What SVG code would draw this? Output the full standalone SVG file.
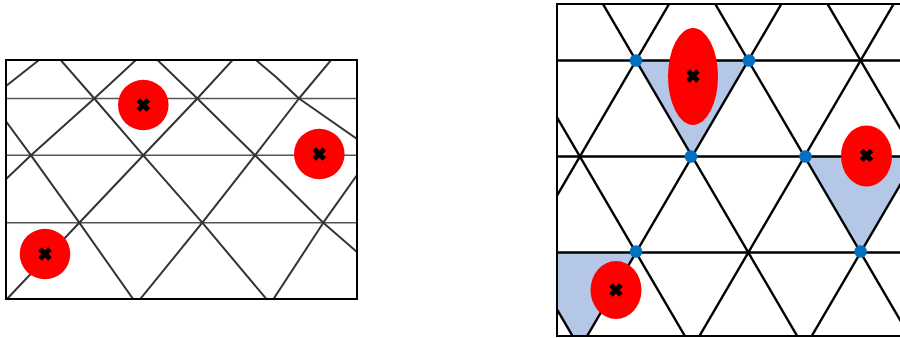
<svg xmlns="http://www.w3.org/2000/svg" width="900" height="338" viewBox="0 0 900 338">
  <defs>
    <style>
      .hl { stroke: #555555; stroke-width: 1.6; fill: none; }
      .dl { stroke: #333333; stroke-width: 2; fill: none; stroke-linejoin: round; }
      .frame { stroke: #000000; stroke-width: 2; fill: none; }
      .rl { stroke: #000000; stroke-width: 2.4; fill: none; }
      .blob { fill: #FF0000; }
      .shade { fill: #B4C7E7; }
      .dot { fill: #0070C0; }
      .x { stroke: #000000; stroke-width: 5; stroke-linecap: butt; fill: none; }
    </style>
    <clipPath id="leftClip"><rect x="6" y="60" width="351" height="239"/></clipPath>
    <clipPath id="rightClip"><rect x="557" y="4" width="350" height="332"/></clipPath>
    <path id="xmark" d="M-5,-5 L5,5 M5,-5 L-5,5"/>
  </defs>
  <rect width="900" height="338" fill="#FFFFFF"/>

  <!-- Left panel: distorted grid -->
  <g id="left-panel">
    <g id="left-grid" clip-path="url(#leftClip)">
      <line class="hl" x1="6" y1="98.5" x2="357" y2="98.5"/>
      <line class="hl" x1="6" y1="155.3" x2="357" y2="155.3"/>
      <line class="hl" x1="6" y1="222.7" x2="357" y2="222.7"/>
      <polyline class="dl" points="60,59.3 94.3,98.5 143.3,155.3 202.3,222.7 266.7,299.3"/>
      <polyline class="dl" points="5,120 31,155.3 79.3,222.7 133.3,299.3"/>
      <polyline class="dl" points="156.7,59.3 197.3,98.5 255,155.3 323.3,222.7 357,252"/>
      <polyline class="dl" points="255,59.3 276,77 299,98.5 357,139"/>
      <polyline class="dl" points="40,59.3 5,86.7"/>
      <polyline class="dl" points="136.7,59.3 94.3,98.5 31,155.3 5,180"/>
      <polyline class="dl" points="233.3,59.3 197.3,98.5 143.3,155.3 79.3,222.7 6.7,299.3"/>
      <polyline class="dl" points="331.7,59.3 299,98.5 255,155.3 202.3,222.7 140,299.3"/>
      <polyline class="dl" points="357,175 323.3,222.7 273.3,299.3"/>
    </g>
    <rect class="frame" x="6" y="60" width="351" height="239"/>
    <g id="left-blob-1"><circle class="blob" cx="143.3" cy="105" r="25.3"/><use href="#xmark" class="x" x="143.3" y="105"/></g>
    <g id="left-blob-2"><circle class="blob" cx="319.3" cy="154" r="25.3"/><use href="#xmark" class="x" x="319.3" y="154"/></g>
    <g id="left-blob-3"><circle class="blob" cx="45" cy="254" r="25.3"/><use href="#xmark" class="x" x="45" y="254"/></g>
  </g>

  <!-- Right panel: regular triangular grid -->
  <g id="right-panel">
    <g id="right-shading" clip-path="url(#rightClip)">
      <polygon class="shade" points="636,60.5 748.3,60.5 692.1,156.5"/>
      <polygon class="shade" points="804.4,156.5 916.7,156.5 860.6,252.5"/>
      <polygon class="shade" points="523.7,252.5 636,252.5 579.8,348.5"/>
    </g>
    <g id="right-grid" clip-path="url(#rightClip)">
      <line class="rl" x1="557" y1="60.5" x2="905" y2="60.5"/>
      <line class="rl" x1="557" y1="156.5" x2="905" y2="156.5"/>
      <line class="rl" x1="557" y1="252.5" x2="905" y2="252.5"/>
      <line class="rl" x1="352.6" y1="-40" x2="598.3" y2="380"/>
      <line class="rl" x1="464.9" y1="-40" x2="710.6" y2="380"/>
      <line class="rl" x1="577.2" y1="-40" x2="822.9" y2="380"/>
      <line class="rl" x1="689.5" y1="-40" x2="935.2" y2="380"/>
      <line class="rl" x1="801.8" y1="-40" x2="1047.5" y2="380"/>
      <line class="rl" x1="582.5" y1="-40" x2="336.8" y2="380"/>
      <line class="rl" x1="694.8" y1="-40" x2="449.1" y2="380"/>
      <line class="rl" x1="807.1" y1="-40" x2="561.4" y2="380"/>
      <line class="rl" x1="919.4" y1="-40" x2="673.7" y2="380"/>
      <line class="rl" x1="1031.7" y1="-40" x2="786" y2="380"/>
      <line class="rl" x1="1144" y1="-40" x2="898.3" y2="380"/>
    </g>
    <rect class="frame" x="557" y="4" width="360" height="332" stroke-width="2.5"/>
    <g id="right-blob-1"><ellipse class="blob" cx="693" cy="76.5" rx="25" ry="48.5"/><use href="#xmark" class="x" x="693" y="76"/></g>
    <g id="right-blob-2"><ellipse class="blob" cx="866.5" cy="156" rx="25.5" ry="30.5"/><use href="#xmark" class="x" x="866.5" y="155.5"/></g>
    <g id="right-blob-3"><ellipse class="blob" cx="616" cy="290" rx="25.5" ry="29"/><use href="#xmark" class="x" x="616" y="290"/></g>
    <g id="vertices">
      <circle class="dot" cx="636" cy="60.5" r="6.3"/>
      <circle class="dot" cx="749" cy="60.5" r="6.3"/>
      <circle class="dot" cx="691" cy="156.5" r="6.3"/>
      <circle class="dot" cx="805.5" cy="156.5" r="6.3"/>
      <circle class="dot" cx="636" cy="251.5" r="6.3"/>
      <circle class="dot" cx="860.6" cy="251.5" r="6.3"/>
    </g>
  </g>
</svg>
